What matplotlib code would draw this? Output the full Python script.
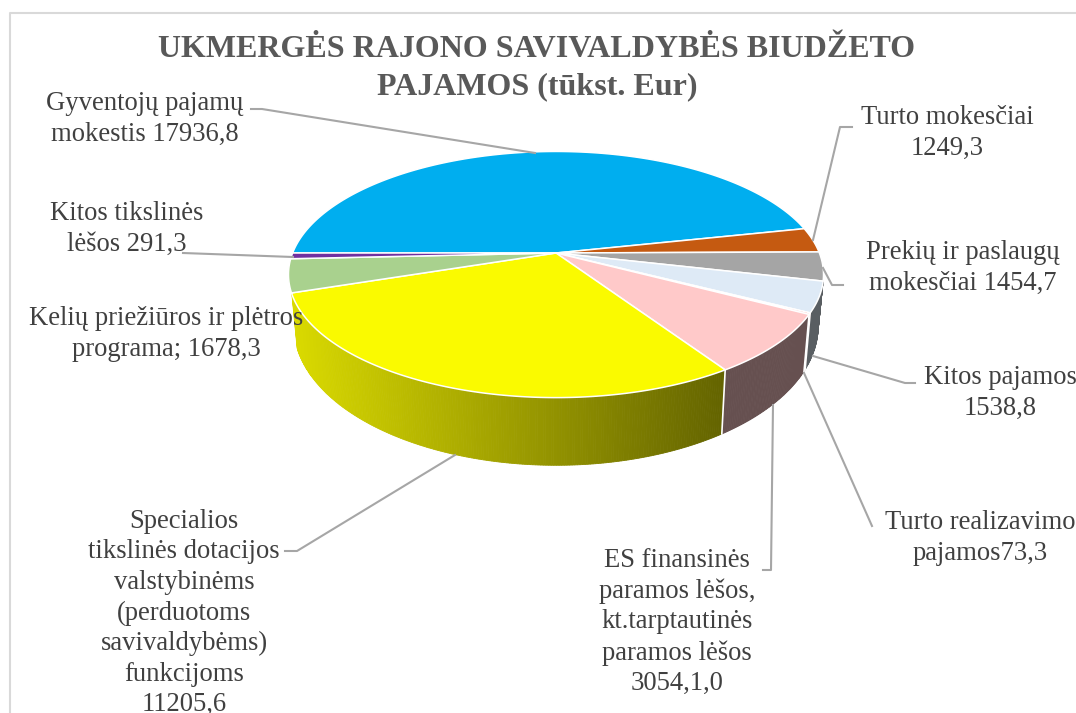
import numpy as np
import matplotlib
matplotlib.use("Agg")
import matplotlib.pyplot as plt
from matplotlib.patches import Polygon

title = "UKMERGĖS RAJONO SAVIVALDYBĖS BIUDŽETO\nPAJAMOS (tūkst. Eur)"
categories = ["Gyventojų pajamų\nmokestis 17936,8",
              "Turto mokesčiai\n1249,3",
              "Prekių ir paslaugų\nmokesčiai 1454,7",
              "Kitos pajamos\n1538,8",
              "Turto realizavimo\npajamos73,3",
              "ES finansinės\nparamos lėšos,\nkt.tarptautinės\nparamos lėšos\n3054,1,0",
              "Specialios\ntikslinės dotacijos\nvalstybinėms\n(perduotoms\nsavivaldybėms)\nfunkcijoms\n11205,6",
              "Kelių priežiūros ir plėtros\nprograma; 1678,3",
              "Kitos tikslinės\nlėšos 291,3"]
values = [17936.8, 1249.3, 1454.7, 1538.8, 73.3, 3054.1, 11205.6, 1678.3, 291.3]
colors = ["#00AEEF", "#C55A11", "#A5A5A5", "#DEEAF6", "#FF5050",
          "#FFC9C9", "#FAFA00", "#A9D18E", "#7030A0"]
label_pos = [(145, 119), (947, 133), (963, 268), (1000, 393), (980, 538),
             (677, 622), (184, 613), (166, 334), (127, 229)]
leaders = [[(251, 109), (262, 109), (535, 153)],
           [(852, 127), (840, 127), (813, 240)],
           [(843, 285), (832, 285), (823, 268)],
           [(813, 356), (905, 383), (915, 383)],
           [(804, 373), (872, 526)],
           [(773, 405), (771, 570), (763, 570)],
           [(285, 551), (297, 551), (455, 455)],
           [(183, 253), (293, 257)]]

# pie plane seen in perspective
CX, CY = 556, 253
RX, RY, K = 263.4, 119.3, 0.175

def project(theta):
    u, v = np.cos(theta), np.sin(theta)
    d = 1 + K * v
    return CX + RX * u / d, CY - RY * v / d

def lower(x, y):
    # same outline on the bottom of the pie
    return CX + (x - CX) * 0.98, 1.13 * y + 16

def shade(x):
    return np.clip(0.87 - 0.47 * (x - 293) / 430, 0.4, 0.87)

plt.rcParams['font.family'] = ['Liberation Serif', 'DejaVu Serif']
fig = plt.figure(figsize=(10.76, 7.13), dpi=100)
ax = fig.add_axes([0, 0, 1, 1])
ax.set_xlim(0, 1076)
ax.set_ylim(713, 0)
ax.axis("off")

# chart frame
ax.plot([10, 10, 1076], [713, 13, 13], color="#D9D9D9", lw=1.5, zorder=1)

fracs = np.array(values) / sum(values)
edges = np.pi - 2 * np.pi * np.concatenate([[0], np.cumsum(fracs)])

# side walls first, cut in small strips so the shading runs along the rim
for i, c in enumerate(colors):
    a0, a1 = edges[i], edges[i + 1]
    rgb = np.array(matplotlib.colors.to_rgb(c))
    n = max(2, int(abs(a1 - a0) * 120))
    th = np.linspace(a0, a1, n)
    x, y = project(th)
    xb, yb = lower(x, y)
    for j in range(n - 1):
        # green and gray slices show no wall
        limit = -0.33 if np.cos(th[j]) < 0 else -0.2
        if np.sin(th[j]) > limit:
            continue
        col = rgb * shade(0.5 * (x[j] + x[j + 1]))
        ax.add_patch(Polygon([(x[j], y[j]), (x[j + 1], y[j + 1]), (xb[j + 1], yb[j + 1]), (xb[j], yb[j])],
                             fc=col, ec=col, lw=0.6, zorder=2))
    if np.sin(a1) < -0.35:
        ax.plot([x[-1], xb[-1]], [y[-1], yb[-1]], color="white", lw=1.2, zorder=3)

# top face
for i, c in enumerate(colors):
    th = np.linspace(edges[i], edges[i + 1], max(2, int(abs(edges[i + 1] - edges[i]) * 120)))
    x, y = project(th)
    pts = np.column_stack([np.r_[CX, x], np.r_[CY, y]])
    ax.add_patch(Polygon(pts, fc=c, ec="white", lw=1.1, joinstyle="round", zorder=4))

for line in leaders:
    ax.plot([p[0] for p in line], [p[1] for p in line], color="#A6A6A6", lw=1.5, zorder=5)

for name, (px, py) in zip(categories, label_pos):
    ax.text(px, py, name, ha="center", va="center", ma="center", fontsize=19.2,
            color="#404040", linespacing=1.29, zorder=6)

ax.text(537, 68, title, ha="center", va="center", ma="center", fontsize=23, fontweight="bold",
        color="#595959", linespacing=1.35, zorder=6)

fig.savefig("out.png", dpi=100)
